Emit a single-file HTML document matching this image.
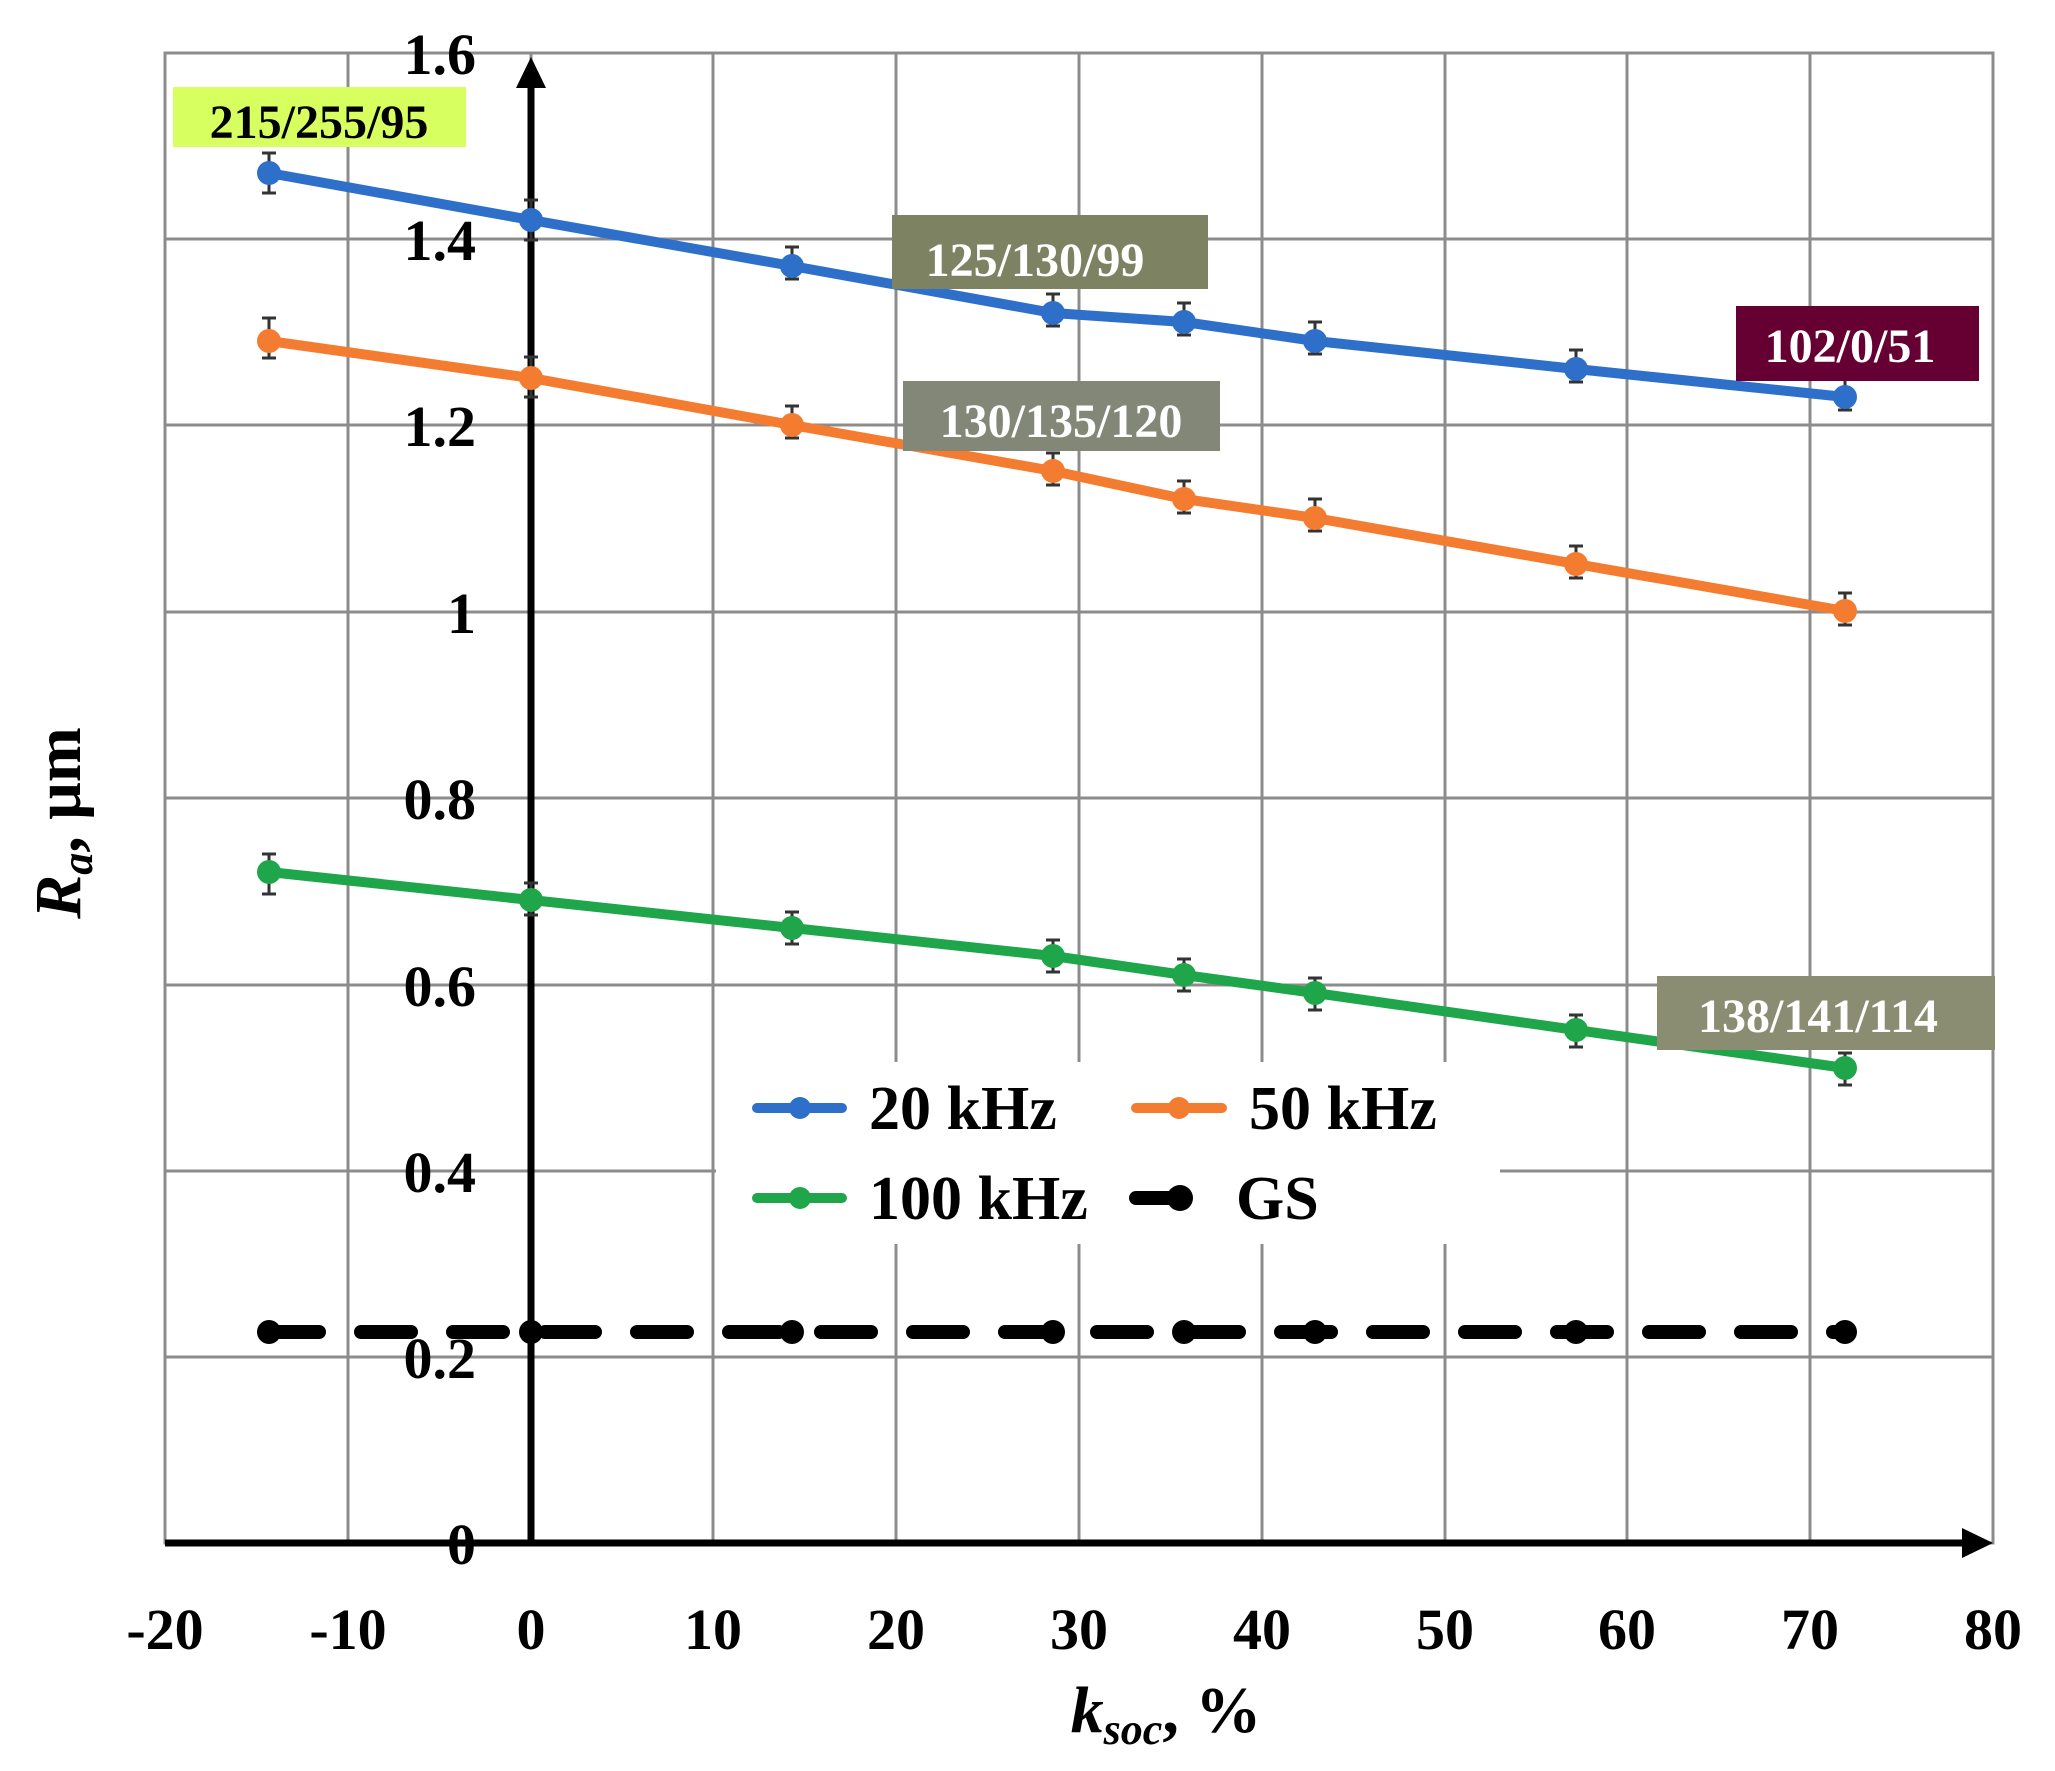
<!DOCTYPE html>
<html><head><meta charset="utf-8"><style>
html,body{margin:0;padding:0;background:#fff}
svg{display:block}
text{font-family:"Liberation Serif",serif;font-weight:bold}
</style></head><body>
<svg width="2055" height="1771" viewBox="0 0 2055 1771" xmlns="http://www.w3.org/2000/svg">
<g stroke="#8c8c8c" stroke-width="3" fill="none">
<rect x="165" y="53" width="1828" height="1490"/>
<line x1="348" y1="53" x2="348" y2="1543"/>
<line x1="531" y1="53" x2="531" y2="1543"/>
<line x1="713" y1="53" x2="713" y2="1543"/>
<line x1="896" y1="53" x2="896" y2="1543"/>
<line x1="1079" y1="53" x2="1079" y2="1543"/>
<line x1="1262" y1="53" x2="1262" y2="1543"/>
<line x1="1445" y1="53" x2="1445" y2="1543"/>
<line x1="1627" y1="53" x2="1627" y2="1543"/>
<line x1="1810" y1="53" x2="1810" y2="1543"/>
<line x1="165" y1="239" x2="1993" y2="239"/>
<line x1="165" y1="425" x2="1993" y2="425"/>
<line x1="165" y1="612" x2="1993" y2="612"/>
<line x1="165" y1="798" x2="1993" y2="798"/>
<line x1="165" y1="985" x2="1993" y2="985"/>
<line x1="165" y1="1171" x2="1993" y2="1171"/>
<line x1="165" y1="1357" x2="1993" y2="1357"/>
</g>
<rect x="716" y="1062" width="784" height="182" fill="#fff"/>
<g font-size="58" text-anchor="end">
<text x="476" y="74">1.6</text>
<text x="476" y="260">1.4</text>
<text x="476" y="446">1.2</text>
<text x="476" y="633">1</text>
<text x="476" y="819">0.8</text>
<text x="476" y="1006">0.6</text>
<text x="476" y="1192">0.4</text>
<text x="476" y="1378">0.2</text>
<text x="476" y="1564">0</text>
</g>
<g font-size="58" text-anchor="middle">
<text x="165" y="1649">-20</text>
<text x="348" y="1649">-10</text>
<text x="531" y="1649">0</text>
<text x="713" y="1649">10</text>
<text x="896" y="1649">20</text>
<text x="1079" y="1649">30</text>
<text x="1262" y="1649">40</text>
<text x="1445" y="1649">50</text>
<text x="1627" y="1649">60</text>
<text x="1810" y="1649">70</text>
<text x="1993" y="1649">80</text>
</g>
<text x="1166" y="1732" font-size="66" text-anchor="middle"><tspan font-style="italic">k</tspan><tspan font-style="italic" font-size="44" dy="12">soc</tspan><tspan dy="-12">, %</tspan></text>
<text transform="translate(80,823) rotate(-90)" font-size="66" text-anchor="middle"><tspan font-style="italic">R</tspan><tspan font-style="italic" font-size="44" dy="12">a</tspan><tspan dy="-12">, μm</tspan></text>
<g stroke="#000" stroke-width="7">
<line x1="531" y1="1543" x2="531" y2="85"/>
<line x1="165" y1="1543" x2="1965" y2="1543"/>
</g>
<polygon points="531,57 516,88 546,88" fill="#000"/>
<polygon points="1993,1543 1962,1528 1962,1558" fill="#000"/>
<polyline points="269,1332 1845,1332" stroke="#000" stroke-width="14" stroke-dasharray="50,42" stroke-linecap="round" fill="none"/>
<g fill="#000">
<circle cx="269" cy="1332" r="12"/><circle cx="531" cy="1332" r="12"/><circle cx="792" cy="1332" r="12"/><circle cx="1053" cy="1332" r="12"/><circle cx="1184" cy="1332" r="12"/><circle cx="1315" cy="1332" r="12"/><circle cx="1576" cy="1332" r="12"/><circle cx="1845" cy="1332" r="12"/>
</g>
<g stroke="#333" stroke-width="3" fill="none">
<path d="M269,153v40M262,153h14M262,193h14 M531,200v40M524,200h14M524,240h14 M792,247v32M785,247h14M785,279h14 M1053,294v32M1046,294h14M1046,326h14 M1184,303v32M1177,303h14M1177,335h14 M1315,322v32M1308,322h14M1308,354h14 M1576,350v32M1569,350h14M1569,382h14 M1845,378v32M1838,378h14M1838,410h14"/>
<path d="M269,318v40M262,318h14M262,358h14 M531,357v40M524,357h14M524,397h14 M792,406v32M785,406h14M785,438h14 M1053,453v32M1046,453h14M1046,485h14 M1184,481v32M1177,481h14M1177,513h14 M1315,499v32M1308,499h14M1308,531h14 M1576,546v32M1569,546h14M1569,578h14 M1845,593v32M1838,593h14M1838,625h14"/>
<path d="M269,854v40M262,854h14M262,894h14 M531,883v32M524,883h14M524,915h14 M792,912v32M785,912h14M785,944h14 M1053,940v32M1046,940h14M1046,972h14 M1184,959v32M1177,959h14M1177,991h14 M1315,978v32M1308,978h14M1308,1010h14 M1576,1015v32M1569,1015h14M1569,1047h14 M1845,1053v32M1838,1053h14M1838,1085h14"/>
</g>
<polyline points="269,173 531,220 792,266 1053,313 1184,322 1315,341 1576,369 1845,397" stroke="#2e6fc9" stroke-width="10" fill="none" stroke-linejoin="round"/>
<polyline points="269,341 531,378 792,425 1053,471 1184,499 1315,518 1576,564 1845,611" stroke="#f47c30" stroke-width="10" fill="none" stroke-linejoin="round"/>
<polyline points="269,872 531,900 792,928 1053,956 1184,975 1315,993 1576,1030 1845,1068" stroke="#1fa54a" stroke-width="10" fill="none" stroke-linejoin="round"/>
<g fill="#2e6fc9"><circle cx="269" cy="173" r="12"/><circle cx="531" cy="220" r="12"/><circle cx="792" cy="266" r="12"/><circle cx="1053" cy="313" r="12"/><circle cx="1184" cy="322" r="12"/><circle cx="1315" cy="341" r="12"/><circle cx="1576" cy="369" r="12"/><circle cx="1845" cy="397" r="12"/></g>
<g fill="#f47c30"><circle cx="269" cy="341" r="12"/><circle cx="531" cy="378" r="12"/><circle cx="792" cy="425" r="12"/><circle cx="1053" cy="471" r="12"/><circle cx="1184" cy="499" r="12"/><circle cx="1315" cy="518" r="12"/><circle cx="1576" cy="564" r="12"/><circle cx="1845" cy="611" r="12"/></g>
<g fill="#1fa54a"><circle cx="269" cy="872" r="12"/><circle cx="531" cy="900" r="12"/><circle cx="792" cy="928" r="12"/><circle cx="1053" cy="956" r="12"/><circle cx="1184" cy="975" r="12"/><circle cx="1315" cy="993" r="12"/><circle cx="1576" cy="1030" r="12"/><circle cx="1845" cy="1068" r="12"/></g>
<rect x="173" y="87" width="293" height="60" fill="#d7ff5f"/>
<text x="319" y="138" font-size="48" text-anchor="middle" fill="#000">215/255/95</text>
<rect x="892" y="215" width="316" height="74" fill="#7d8263"/>
<text x="1035" y="276" font-size="48" text-anchor="middle" fill="#fff">125/130/99</text>
<rect x="903" y="381" width="317" height="70" fill="#828778"/>
<text x="1061" y="437" font-size="48" text-anchor="middle" fill="#fff">130/135/120</text>
<rect x="1736" y="306" width="243" height="75" fill="#660033"/>
<text x="1850" y="362" font-size="48" text-anchor="middle" fill="#fff">102/0/51</text>
<rect x="1657" y="976" width="338" height="74" fill="#8a8d72"/>
<text x="1818" y="1032" font-size="48" text-anchor="middle" fill="#fff">138/141/114</text>
<g stroke-width="10" stroke-linecap="round">
<line x1="757" y1="1108" x2="842" y2="1108" stroke="#2e6fc9"/>
<line x1="1136" y1="1108" x2="1222" y2="1108" stroke="#f47c30"/>
<line x1="757" y1="1198" x2="842" y2="1198" stroke="#1fa54a"/>
<line x1="1136" y1="1198" x2="1180" y2="1198" stroke="#000" stroke-width="14"/>
</g>
<circle cx="800" cy="1108" r="11" fill="#2e6fc9"/>
<circle cx="1179" cy="1108" r="11" fill="#f47c30"/>
<circle cx="800" cy="1198" r="11" fill="#1fa54a"/>
<circle cx="1180" cy="1198" r="13" fill="#000"/>
<g font-size="62">
<text x="869" y="1129">20 kHz</text>
<text x="1249" y="1129">50 kHz</text>
<text x="869" y="1219">100 kHz</text>
<text x="1236" y="1219">GS</text>
</g>
</svg>
</body></html>
